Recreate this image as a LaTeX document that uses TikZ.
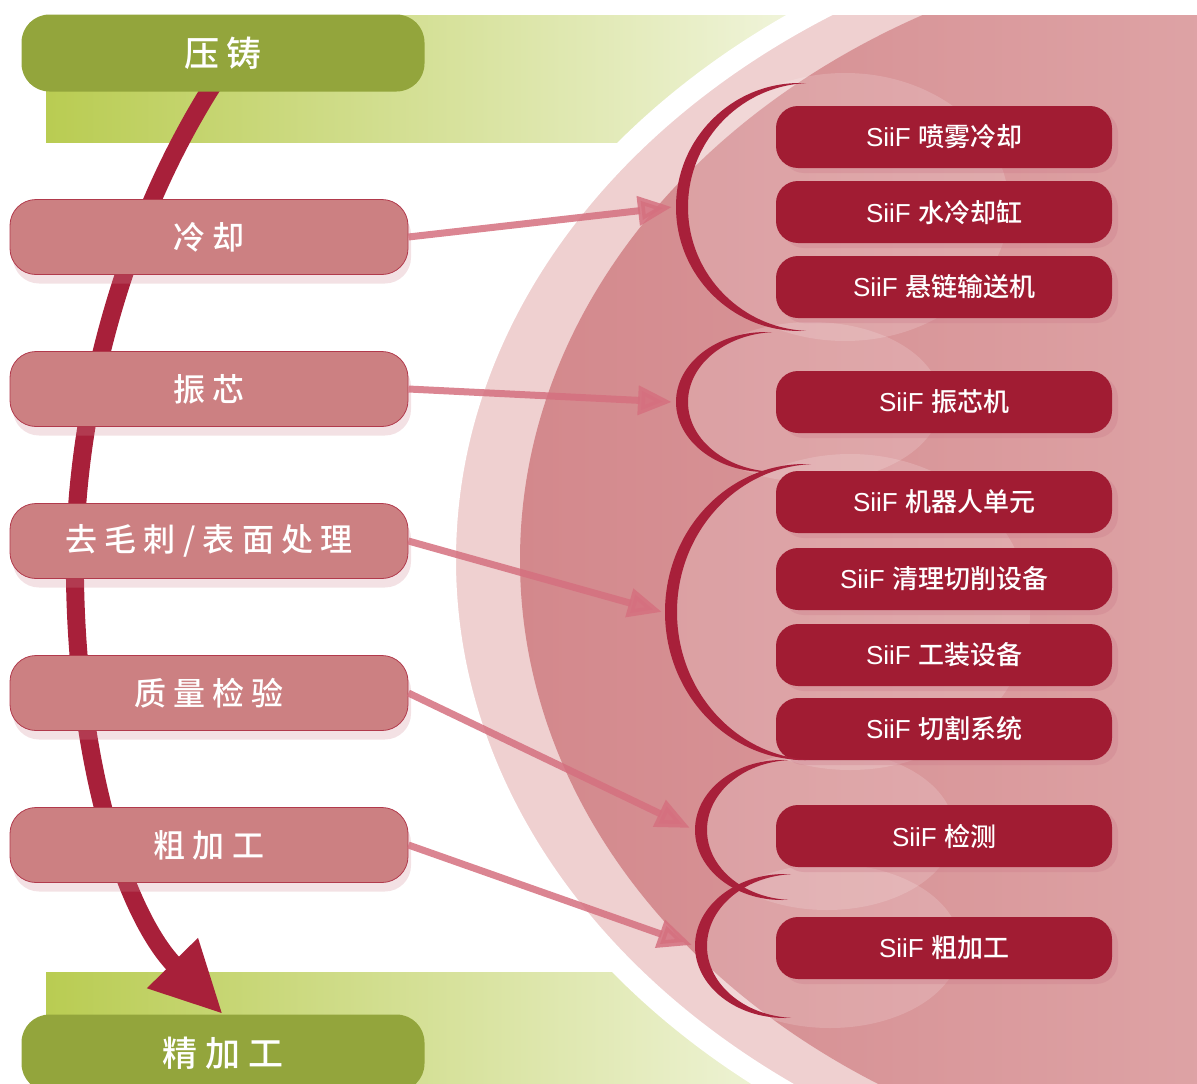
\documentclass[tikz,border=0pt]{standalone}
\usepackage{fontspec}
\setmainfont{Liberation Sans}
\newfontfamily\cjk{Noto Sans CJK SC Medium}
\usetikzlibrary{arrows.meta,shadows,positioning}
\pgfdeclarelayer{back}
\pgfdeclarelayer{mid}
\pgfsetlayers{back,mid,main}

\definecolor{boxgreen}{HTML}{93A53C}
\definecolor{bandgreen}{HTML}{B9CC52}
\definecolor{steppink}{HTML}{CC8082}
\definecolor{stepedge}{HTML}{B13A4C}
\definecolor{siifred}{HTML}{A11C33}
\definecolor{flowred}{HTML}{A8203A}
\definecolor{linkpink}{HTML}{D5707F}
\definecolor{palepink}{HTML}{EFD0D0}
\definecolor{bodypink}{HTML}{D3888C}
\definecolor{lightbody}{HTML}{EBC4C4}

\tikzset{
  stage/.style={rectangle,rounded corners=26pt,fill=steppink,draw=stepedge,line width=.8pt,
    minimum width=398pt,minimum height=75pt,inner sep=0pt,text=white,
    font=\cjk\fontsize{32}{36}\selectfont,
    drop shadow={shadow xshift=3pt,shadow yshift=-9pt,opacity=.25,fill=stepedge!60}},
  endstage/.style={rectangle,rounded corners=28pt,fill=boxgreen,minimum width=403pt,
    minimum height=77pt,inner sep=0pt,text=white,font=\cjk\fontsize{35}{40}\selectfont},
  unit/.style={rectangle,rounded corners=22pt,fill=siifred,minimum width=336pt,
    minimum height=62pt,inner sep=0pt,text=white,font=\fontsize{26}{30}\selectfont,
    drop shadow={shadow xshift=6pt,shadow yshift=-5pt,opacity=.3,fill=flowred!60}},
  link/.style={linkpink,opacity=.85,line width=7pt,-{Triangle[length=34pt,width=28pt]}},
  flow/.style={flowred,line width=18pt,-{Triangle[length=72pt,width=66pt]}}
}

\begin{document}
\begin{tikzpicture}[x=1pt,y=-1pt]
\useasboundingbox (0,0) rectangle (1197,1084);

% background: bands and the big pink disc
\begin{pgfonlayer}{back}
\begin{scope}
\clip (0,15) rectangle (1197,1084);
\shade[left color=bandgreen,right color=bandgreen!10] (46,15) rectangle (900,142);
\shade[left color=bandgreen,right color=bandgreen!10] (46,972) rectangle (900,1084);
\fill[palepink,draw=white,line width=22pt] (1280,560) ellipse [x radius=835, y radius=660];
\shade[left color=bodypink,right color=lightbody] (1290,560) ellipse [x radius=770, y radius=620];
\foreach \cx/\cy/\rx/\ry in {800/207/124/124,766/402/90/70,805/612/140/148,782/830/87/70,785/946/90/72}
  \fill[white,opacity=.16] (\cx+45,\cy) ellipse [x radius=\rx+40, y radius=\ry+10];
\end{scope}
\end{pgfonlayer}

% process steps
\node[endstage] (yazhu) at (223,53) {压 铸};
\node[stage] (lengque) at (209,237) {冷 却};
\node[stage] (zhenxin) at (209,389) {振 芯};
\node[stage] (qumaoci) at (209,541) {去 毛 刺 / 表 面 处 理};
\node[stage] (zhiliang) at (209,693) {质 量 检 验};
\node[stage] (cujiagong) at (209,845) {粗 加 工};
\node[endstage] (jingjiagong) at (223,1053) {精 加 工};

\begin{pgfonlayer}{mid}
\draw[flow] ([xshift=-8pt,yshift=10pt]yazhu.south) .. controls (120,230) and (72,420) .. (75,580)
  .. controls (78,780) and (130,920) .. (jingjiagong.north);
\end{pgfonlayer}

% SiiF units
\node[unit] (penwu) at (944,137) {SiiF {\cjk 喷雾冷却}};
\node[unit] (shuileng) at (944,212) {SiiF {\cjk 水冷却缸}};
\node[unit] (xuanlian) at (944,287) {SiiF {\cjk 悬链输送机}};
\node[unit] (zhenxinji) at (944,402) {SiiF {\cjk 振芯机}};
\node[unit] (jiqiren) at (944,502) {SiiF {\cjk 机器人单元}};
\node[unit] (qingli) at (944,579) {SiiF {\cjk 清理切削设备}};
\node[unit] (gongzhuang) at (944,655) {SiiF {\cjk 工装设备}};
\node[unit] (qiege) at (944,729) {SiiF {\cjk 切割系统}};
\node[unit] (jiance) at (944,836) {SiiF {\cjk 检测}};
\node[unit] (cujia) at (944,948) {SiiF {\cjk 粗加工}};

% brackets round each group
\foreach \cx/\cy/\rx/\ry in {800/207/124/124,766/402/90/70,805/612/140/148,782/830/87/70,785/946/90/72}
{
  \begin{scope}
  \clip (\cx-\rx-10,\cy-\ry-10) rectangle (\cx+6,\cy+\ry+10);
  \fill[flowred,even odd rule] (\cx,\cy) ellipse [x radius=\rx, y radius=\ry]
    (\cx+12,\cy) ellipse [x radius=\rx, y radius=\ry];
  \end{scope}
}

\coordinate (b1) at (672,207);
\coordinate (b2) at (672,402);
\coordinate (b3) at (662,612);
\coordinate (b4) at (690,828);
\coordinate (b5) at (692,945);

\foreach \from/\to in {lengque/b1,zhenxin/b2,qumaoci/b3,zhiliang/b4,cujiagong/b5}
  \draw[link] (\from.east) -- (\to);
\end{tikzpicture}
\end{document}
